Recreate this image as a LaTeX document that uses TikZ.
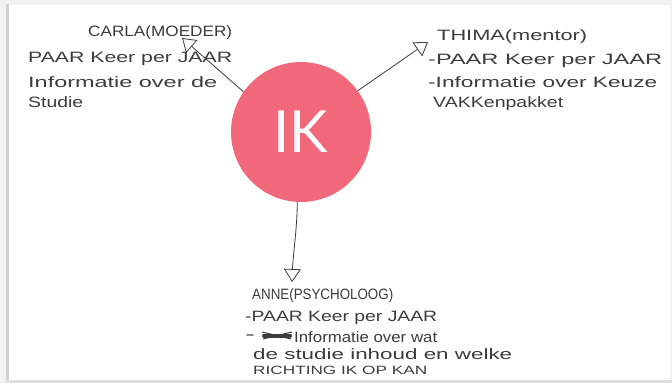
\documentclass[tikz,border=0pt]{standalone}
\usepackage{fontspec}
\usepackage{graphicx}
\usetikzlibrary{arrows.meta}
\newfontfamily\handfont{Liberation Sans}
\newfontfamily\ikfont{Lato}
\definecolor{ink}{HTML}{3C3C3C}
\definecolor{ikred}{HTML}{F2687B}
\newcommand\hw[2]{\resizebox{#1pt}{\height}{#2}}
\begin{document}
\begin{tikzpicture}[x=1pt,y=-1pt,
  hand/.style={anchor=west, inner sep=0pt, text=ink, font=\handfont\fontsize{15}{15}\selectfont},
  conn/.style={draw=ink, line width=0.8pt, -{Triangle[open, length=13pt, width=17pt, line width=0.8pt]}},
  hub/.style={circle, fill=ikred, minimum size=140pt, inner sep=0pt, text=white, font=\ikfont\fontsize{58}{58}\selectfont}]
\useasboundingbox (0,0) rectangle (672,383);
% card and its shadow
\fill[gray!10] (0,0) rectangle (672,383);
\fill[gray!35] (6,4) rectangle (9,383);
\fill[gray!25] (6,380) rectangle (672,383);
\fill[white] (9,5) rectangle (670,380);
% central circle
\node[hub] (ik) at (301,132) {IK};
% arrow tips
\coordinate (cTip) at (182,38);
\coordinate (tTip) at (428,42);
\coordinate (aTip) at (292,282);
\draw[conn] (ik.145) -- (cTip);
\draw[conn] (ik.36) -- (tTip);
\draw[conn] (ik.267) .. controls (297,230) and (293,255) .. (aTip);
% Carla
\node[hand] (c0) at (88,33) {\hw{144}{CARLA(MOEDER)}};
\node[hand] (c1) at (28,59) {\hw{204}{PAAR Keer per JAAR}};
\node[hand] (c2) at (28,82) {\hw{189}{Informatie over de}};
\node[hand] (c3) at (28,102) {\hw{55}{Studie}};
% Thima
\node[hand] (t0) at (437,37) {\hw{150}{THIMA(mentor)}};
\node[hand] (t1) at (428,61) {\hw{234}{-PAAR Keer per JAAR}};
\node[hand] (t2) at (428,82) {\hw{229}{-Informatie over Keuze}};
\node[hand] (t3) at (433,104) {\hw{130}{VAKKenpakket}};
% Anne
\node[hand] (a0) at (252,296) {\hw{141}{ANNE(PSYCHOLOOG)}};
\node[hand] (a1) at (245,318) {\hw{192}{-PAAR Keer per JAAR}};
\node[hand] (a2d) at (245,337) {\hw{10}{-}};
\draw[ink, line width=4pt, line cap=round] (264,335.5) -- (290,335.5);
\draw[ink, line width=1pt] (262,332) -- (291,339) (263,339) -- (292,332);
\node[hand] (a2) at (294,337) {\hw{143}{Informatie over wat}};
\node[hand] (a3) at (253,354) {\hw{259}{de studie inhoud en welke}};
\node[hand, font=\handfont\fontsize{12}{12}\selectfont] (a4) at (253,370) {\hw{174}{RICHTING IK OP KAN}};
\end{tikzpicture}
\end{document}
